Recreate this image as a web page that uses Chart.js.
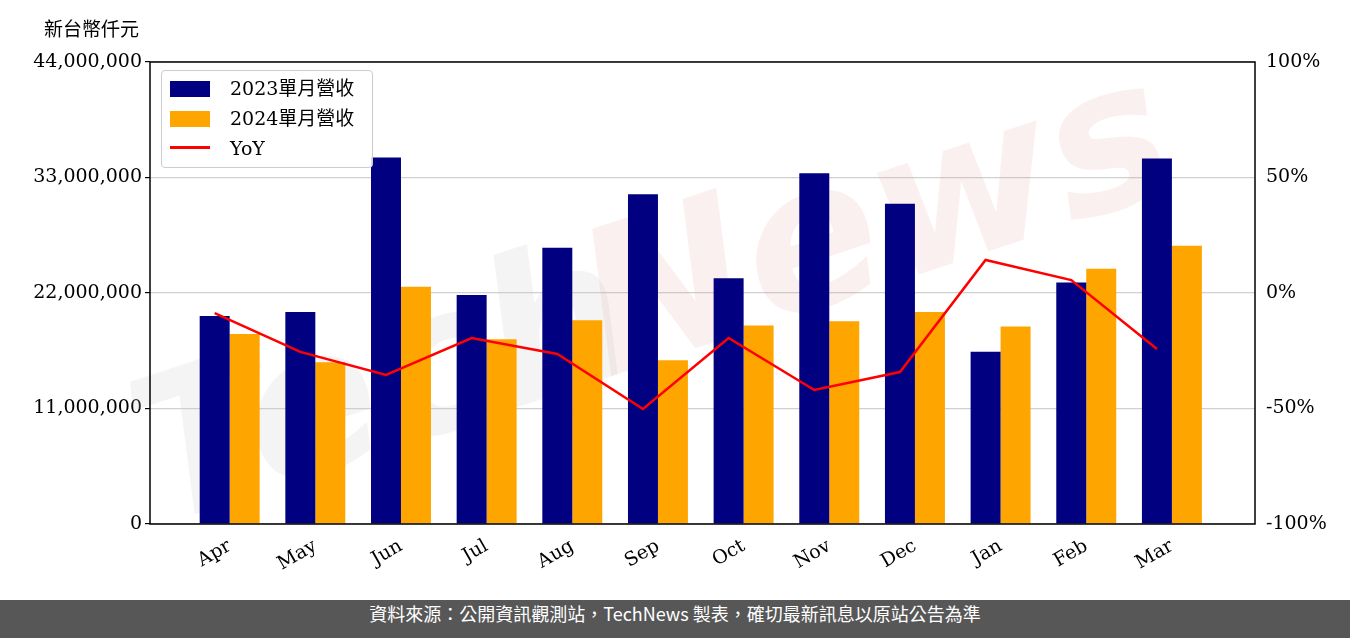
<!DOCTYPE html>
<html><head><meta charset="utf-8">
<script src="https://cdn.jsdelivr.net/npm/chart.js@4"></script>
<style>
body{margin:0;background:#fff;width:1350px;height:638px;overflow:hidden;position:relative;font-family:"DejaVu Serif","Noto Sans CJK TC",serif}
#wrap{position:absolute;left:0;top:0;width:1350px;height:600px}
#unit{position:absolute;left:44px;top:14px;font:19px "Noto Sans CJK TC",sans-serif;color:#000}
#legend{position:absolute;left:161px;top:70px;width:210px;height:96px;border:1px solid #ccc;border-radius:4px;background:rgba(255,255,255,.85);font:19px "DejaVu Serif","Noto Sans CJK TC",serif}
#legend div{position:absolute;left:8px;height:22px;line-height:22px}
#legend span{display:inline-block;width:40px;height:16px;margin-right:20px;vertical-align:-2px}
#foot{position:absolute;left:0;top:600px;width:1350px;height:38px;background:#575757;color:#fff;text-align:center;line-height:38px;font:18px "Noto Sans CJK TC",sans-serif}
</style></head><body>
<div id="wrap"><canvas id="c"></canvas></div>
<div id="unit">新台幣仟元</div>
<div id="legend">
<div style="top:6px"><span style="background:#000080"></span>2023單月營收</div>
<div style="top:36px"><span style="background:#FFA500"></span>2024單月營收</div>
<div style="top:66px"><span style="background:#f00;height:3px;vertical-align:6px"></span>YoY</div>
</div>
<div id="foot">資料來源：公開資訊觀測站，TechNews 製表，確切最新訊息以原站公告為準</div>
<script>
var months = ["Apr","May","Jun","Jul","Aug","Sep","Oct","Nov","Dec","Jan","Feb","Mar"];
var rev2023 = [19800000,20200000,34900000,21800000,26300000,31400000,23400000,33400000,30500000,16400000,23000000,34800000];
var rev2024 = [18100000,15400000,22600000,17600000,19400000,15600000,18900000,19300000,20200000,18800000,24300000,26500000];
var yoy = [-8.7,-25.5,-35.5,-19.5,-26.4,-50.2,-19.5,-42,-34.2,14.3,5.6,-24.2];
var yTicks = [0,11000000,22000000,33000000,44000000];

function pts(arr, shift){ return arr.map(function(v,i){ return {x:i+(shift||0), y:v}; }); }
var serif = {family:"DejaVu Serif", size:19};

var frame = {
  id:'frame',
  beforeDatasetsDraw:function(ch){
    var c=ch.ctx;
    c.save();
    c.translate(560,330); c.rotate(-0.32);
    c.font='italic bold 200px "DejaVu Sans"';
    c.fillStyle='rgba(200,200,200,0.2)';
    c.fillText('Tech',-440,60);
    c.fillStyle='rgba(230,150,150,0.14)';
    c.fillText('News',30,60);
    c.restore();
  },
  afterDraw:function(ch){
    var c=ch.ctx, a=ch.chartArea;
    c.save(); c.strokeStyle='#000'; c.lineWidth=1.5;
    c.strokeRect(a.left,a.top,a.right-a.left,a.bottom-a.top); c.restore();
  }
};

new Chart(document.getElementById('c'), {
  type:'bar',
  data:{datasets:[
    {type:'line', label:'YoY', data:pts(yoy,-0.175), yAxisID:'y2', borderColor:'#f00', borderWidth:2.5, pointRadius:0, tension:0, order:0},
    {label:'2023單月營收', data:pts(rev2023), backgroundColor:'#000080', yAxisID:'y', categoryPercentage:0.7, barPercentage:1, order:1},
    {label:'2024單月營收', data:pts(rev2024), backgroundColor:'#FFA500', yAxisID:'y', categoryPercentage:0.7, barPercentage:1, order:1}
  ]},
  plugins:[frame],
  options:{
    responsive:true, maintainAspectRatio:false, animation:false,
    layout:{padding:{top:62,right:0,left:0,bottom:0}},
    plugins:{legend:{display:false}, tooltip:{enabled:false}},
    scales:{
      x:{type:'linear', min:-0.93, max:11.97, offset:false,
        afterBuildTicks:function(s){ s.ticks = months.map(function(m,i){return {value:i};}); },
        afterFit:function(s){ s.height=76; },
        ticks:{font:serif, color:'#000', maxRotation:30, minRotation:30, autoSkip:false,
          callback:function(v){ return months[v]; }},
        grid:{display:false}, border:{display:false}},
      y:{position:'left', min:0, max:44000000,
        afterBuildTicks:function(s){ s.ticks = yTicks.map(function(v){return {value:v};}); },
        afterFit:function(s){ s.width=150; },
        ticks:{font:serif, color:'#000', callback:function(v){ return v.toLocaleString('en-US'); }},
        grid:{color:'#d0d0d0', lineWidth:1.2, drawTicks:true, tickColor:'#000', tickLength:5}, border:{display:false}},
      y2:{position:'right', min:-100, max:100,
        afterFit:function(s){ s.width=95; },
        ticks:{font:serif, color:'#000', stepSize:50, callback:function(v){ return v+'%'; }},
        grid:{display:false}, border:{display:false}}
    }
  }
});
</script>
</body></html>
